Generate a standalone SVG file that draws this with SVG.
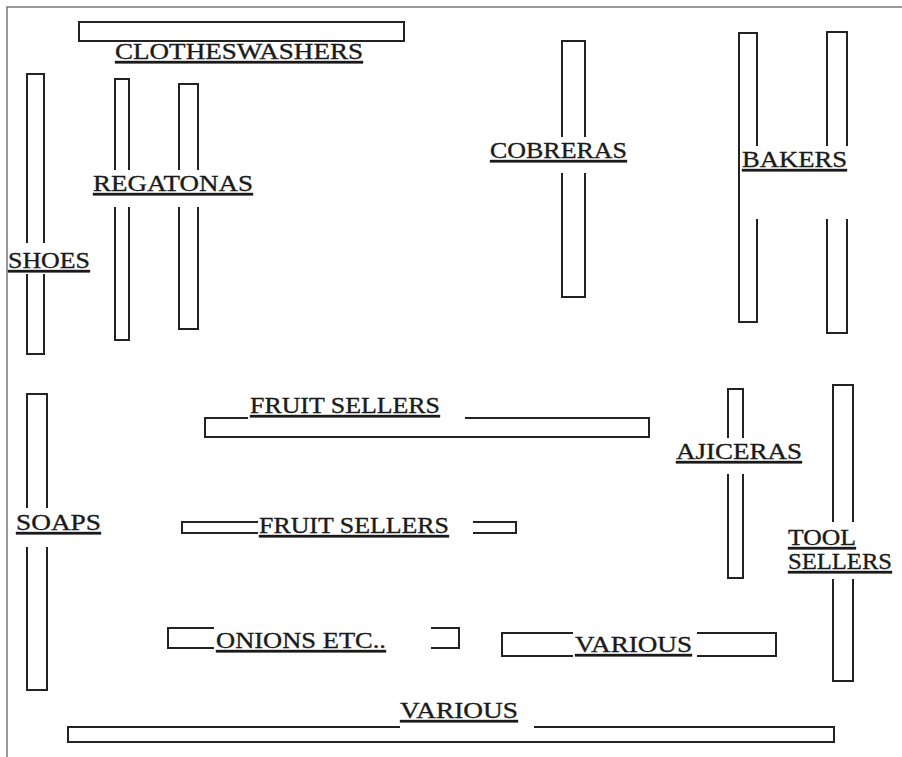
<svg xmlns="http://www.w3.org/2000/svg" width="902" height="757" viewBox="0 0 902 757">
<style>
.bar{fill:#fff;stroke:#222;stroke-width:2}
.mask{fill:#fff;stroke:none}
.lbl{font-family:"Liberation Serif","Times New Roman",serif;font-size:24px;fill:#1a1a1a;stroke:#1a1a1a;stroke-width:0.35;text-decoration:underline}
.frame{stroke:#777;stroke-width:1.5;fill:none}
</style>
<rect width="902" height="757" fill="#fff"/>
<path class="frame" d="M7,757 V7 H902"/>

<g id="clotheswashers">
<rect class="bar" x="79" y="22" width="325" height="19"/>
<text class="lbl" x="115" y="59" textLength="248" lengthAdjust="spacingAndGlyphs">CLOTHESWASHERS</text>
</g>

<g id="shoes">
<rect class="bar" x="27" y="74" width="17" height="280"/>
<rect class="mask" x="8" y="243" width="84" height="31"/>
<text class="lbl" x="8" y="268" textLength="82" lengthAdjust="spacingAndGlyphs">SHOES</text>
</g>

<g id="regatonas">
<rect class="bar" x="115" y="79" width="14" height="261"/>
<rect class="bar" x="179" y="84" width="19" height="245"/>
<rect class="mask" x="92" y="170" width="166" height="37"/>
<text class="lbl" x="93" y="191" textLength="160" lengthAdjust="spacingAndGlyphs">REGATONAS</text>
</g>

<g id="cobreras">
<rect class="bar" x="562" y="41" width="23" height="256"/>
<rect class="mask" x="487" y="137" width="143" height="36"/>
<text class="lbl" x="490" y="158" textLength="137" lengthAdjust="spacingAndGlyphs">COBRERAS</text>
</g>

<g id="bakers">
<rect class="bar" x="739" y="33" width="18" height="289"/>
<rect class="bar" x="827" y="32" width="20" height="301"/>
<rect class="mask" x="741" y="146" width="119" height="73"/>
<text class="lbl" x="742" y="167" textLength="105" lengthAdjust="spacingAndGlyphs">BAKERS</text>
</g>

<g id="soaps">
<rect class="bar" x="27" y="394" width="20" height="296"/>
<rect class="mask" x="14" y="508" width="89" height="39"/>
<text class="lbl" x="16" y="530" textLength="85" lengthAdjust="spacingAndGlyphs">SOAPS</text>
</g>

<g id="fruit-sellers-1">
<rect class="bar" x="205" y="418" width="444" height="19"/>
<rect class="mask" x="248" y="390" width="217" height="30"/>
<text class="lbl" x="250" y="413" textLength="190" lengthAdjust="spacingAndGlyphs">FRUIT SELLERS</text>
</g>

<g id="fruit-sellers-2">
<rect class="bar" x="182" y="522" width="334" height="11"/>
<rect class="mask" x="258" y="505" width="215" height="33"/>
<text class="lbl" x="259" y="533" textLength="190" lengthAdjust="spacingAndGlyphs">FRUIT SELLERS</text>
</g>

<g id="ajiceras">
<rect class="bar" x="728" y="389" width="15" height="189"/>
<rect class="mask" x="674" y="438" width="131" height="36"/>
<text class="lbl" x="676" y="459" textLength="126" lengthAdjust="spacingAndGlyphs">AJICERAS</text>
</g>

<g id="tool-sellers">
<rect class="bar" x="833" y="385" width="20" height="296"/>
<rect class="mask" x="786" y="522" width="110" height="57"/>
<text class="lbl" x="788" y="545" textLength="68" lengthAdjust="spacingAndGlyphs">TOOL</text>
<text class="lbl" x="788" y="569" textLength="104" lengthAdjust="spacingAndGlyphs">SELLERS</text>
</g>

<g id="onions">
<rect class="bar" x="168" y="628" width="291" height="20"/>
<rect class="mask" x="214" y="618" width="217" height="32"/>
<text class="lbl" x="216" y="648" textLength="170" lengthAdjust="spacingAndGlyphs">ONIONS ETC..</text>
</g>

<g id="various-middle">
<rect class="bar" x="502" y="633" width="274" height="23"/>
<rect class="mask" x="573" y="626" width="124" height="31"/>
<text class="lbl" x="575" y="652" textLength="117" lengthAdjust="spacingAndGlyphs">VARIOUS</text>
</g>

<g id="various-bottom">
<rect class="bar" x="68" y="727" width="766" height="15"/>
<rect class="mask" x="400" y="698" width="134" height="30"/>
<text class="lbl" x="400" y="718" textLength="118" lengthAdjust="spacingAndGlyphs">VARIOUS</text>
</g>
</svg>
